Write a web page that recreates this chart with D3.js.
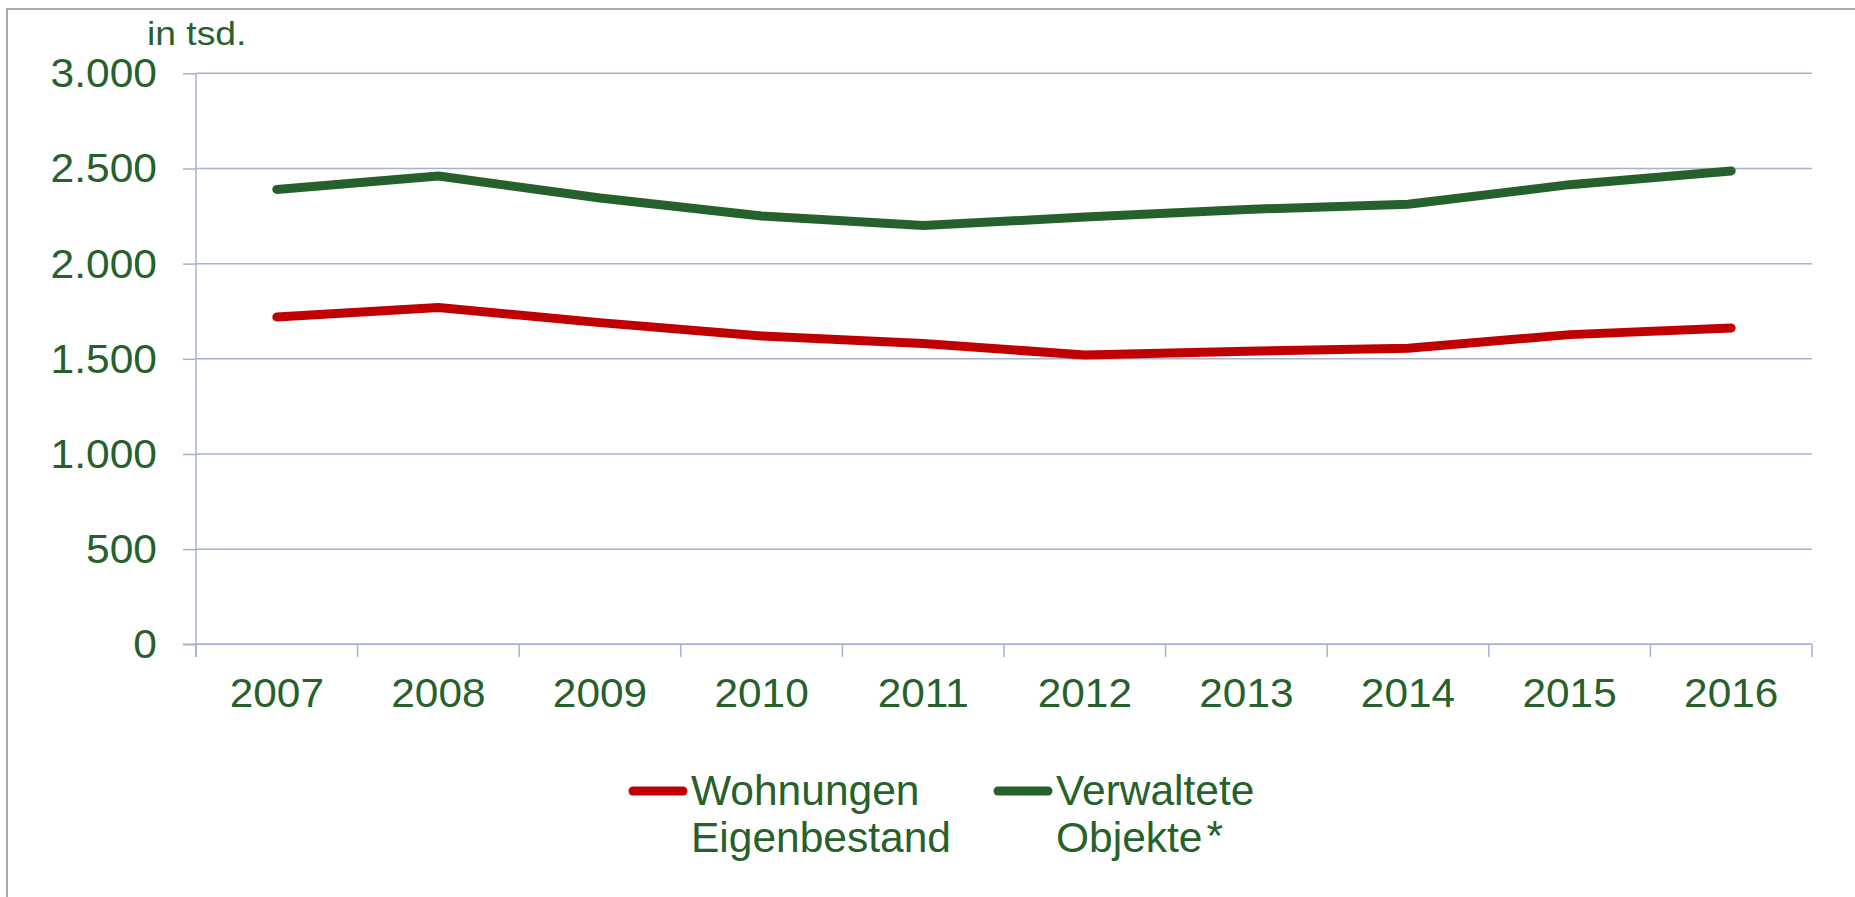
<!DOCTYPE html>
<html>
<head>
<meta charset="utf-8">
<script src="https://cdn.jsdelivr.net/npm/d3@7/dist/d3.min.js"></script>
<style>
  html, body { margin: 0; padding: 0; background: #fff; }
  svg { display: block; }
  text { font-family: "Liberation Sans", Arial, sans-serif; fill: #26612B; }
</style>
</head>
<body>
<svg id="chart" width="1855" height="897"></svg>
<script>
const years = ["2007","2008","2009","2010","2011","2012","2013","2014","2015","2016"];
const wohnungen = [1720, 1770, 1690, 1620, 1580, 1520, 1540, 1555, 1627, 1662];
const verwaltete = [2390, 2460, 2345, 2250, 2200, 2245, 2285, 2312, 2415, 2487];
const yTicks = [0, 500, 1000, 1500, 2000, 2500, 3000];
const seriesNames = [["Wohnungen", "Eigenbestand"], ["Verwaltete", "Objekte"]];
const unitLabel = "in tsd.";

const green = "#26612B";
const red = "#C00000";
const gridColor = "#A7B1D2";

const svg = d3.select("#chart");

// outer frame
svg.append("rect")
  .attr("x", 7).attr("y", 9).attr("width", 1900).attr("height", 1000)
  .attr("fill", "none").attr("stroke", "#ABABAB").attr("stroke-width", 2);

const x = d3.scaleBand().domain(years).range([196, 1812]).padding(0);
const y = d3.scaleLinear().domain([0, 3000]).range([644.3, 73.3]);
const cx = d => x(d) + x.bandwidth() / 2;

// gridlines
svg.append("g").selectAll("line").data(yTicks).join("line")
  .attr("x1", 196).attr("x2", 1812)
  .attr("y1", d => y(d)).attr("y2", d => y(d))
  .attr("stroke", gridColor).attr("stroke-width", 1.5);

// y axis
const yAxis = svg.append("g").attr("transform", "translate(196,0)")
  .call(d3.axisLeft(y).tickValues(yTicks).tickSize(13).tickPadding(24.2)
    .tickFormat(d => d3.format(",")(d).replace(/,/g, ".")));
yAxis.select(".domain").attr("stroke", gridColor).attr("stroke-width", 1.5)
  .attr("d", "M0,73.3V657");
yAxis.selectAll(".tick line").attr("stroke", gridColor).attr("stroke-width", 1.5);
yAxis.selectAll(".tick text")
  .attr("font-size", 40.5).attr("fill", green)
  .attr("font-family", "Liberation Sans, Arial, sans-serif")
  .attr("dy", "0.33em")
  .attr("transform", "scale(1.05,1)");

// x axis
const xAxis = svg.append("g").attr("transform", "translate(0,644.3)")
  .call(d3.axisBottom(x).tickSize(0).tickPadding(34.5));
xAxis.select(".domain").attr("stroke", gridColor).attr("stroke-width", 1.5)
  .attr("d", "M183,0H1812");
xAxis.selectAll(".tick text")
  .attr("font-size", 40).attr("fill", green)
  .attr("font-family", "Liberation Sans, Arial, sans-serif")
  .attr("transform", "scale(1.06,1)");
// boundary ticks
const bounds = years.map(d => x(d)).concat([x.range()[1]]);
svg.append("g").selectAll("line").data(bounds).join("line")
  .attr("x1", d => d).attr("x2", d => d)
  .attr("y1", 644.3).attr("y2", 657)
  .attr("stroke", gridColor).attr("stroke-width", 1.5);

// unit label
svg.append("text").attr("x", 147).attr("y", 45)
  .attr("font-size", 33).attr("fill", green)
  .attr("transform", "translate(147,0) scale(1.13,1) translate(-147,0)")
  .text(unitLabel);

// lines
const line = d3.line().x((d, i) => cx(years[i])).y(d => y(d));
[[wohnungen, red], [verwaltete, green]].forEach(([vals, col]) => {
  svg.append("path").datum(vals)
    .attr("d", line)
    .attr("fill", "none").attr("stroke", col).attr("stroke-width", 9)
    .attr("stroke-linecap", "round").attr("stroke-linejoin", "round");
});

// legend
const legendItems = [
  { name: seriesNames[0], color: red, lx1: 633, lx2: 683, tx: 691, star: false },
  { name: seriesNames[1], color: green, lx1: 998, lx2: 1048, tx: 1056, star: true }
];
legendItems.forEach(it => {
  svg.append("line").attr("x1", it.lx1).attr("x2", it.lx2)
    .attr("y1", 791).attr("y2", 791)
    .attr("stroke", it.color).attr("stroke-width", 9).attr("stroke-linecap", "round");
  svg.append("text").attr("x", it.tx).attr("y", 805).attr("font-size", 42.5)
    .attr("fill", green).text(it.name[0]);
  const t2 = svg.append("text").attr("x", it.tx).attr("y", 852).attr("font-size", 42.5)
    .attr("fill", green);
  t2.append("tspan").text(it.name[1]);
  if (it.star) t2.append("tspan").attr("dx", 4).attr("dy", -2).text("*");
});
</script>
</body>
</html>
